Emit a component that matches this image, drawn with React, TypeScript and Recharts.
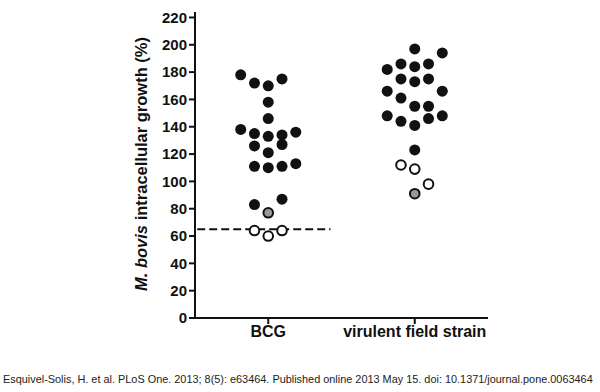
import { ScatterChart, Scatter, XAxis, YAxis, ReferenceLine } from "recharts";

const groups = ["BCG", "virulent field strain"];
const groupCenters = [1, 3];
const yTicks = [0, 20, 40, 60, 80, 100, 120, 140, 160, 180, 200, 220];
const cutoff = 65;

// f = filled, g = grey, o = open
const bcgValues = [178, 172, 170, 175, 158, 146, 138, 135, 133, 134, 136, 126, 121, 127, 111, 110, 111, 113, 83, 87, 77, 64, 60, 64];
const bcgSlots = [-2, -1, 0, 1, 0, 0, -2, -1, 0, 1, 2, -1, 0, 1, -1, 0, 1, 2, -1, 1, 0, -1, 0, 1];
const bcgKinds = "ffffffffffffffffffffgooo";

const virValues = [197, 194, 182, 186, 184, 186, 175, 173, 175, 166, 161, 166, 155, 155, 148, 144, 141, 146, 148, 123, 112, 109, 98, 91];
const virSlots = [0, 2, -2, -1, 0, 1, -1, 0, 1, -2, -1, 2, 0, 1, -2, -1, 0, 1, 2, 0, -1, 0, 1, 0];
const virKinds = "ffffffffffffffffffffooog";

const spread = 0.188;

const build = (center: number, vals: number[], slots: number[], kinds: string) =>
  vals.map((v, i) => ({ x: center + slots[i] * spread, y: v, kind: kinds[i] }));

const data = [
  ...build(groupCenters[0], bcgValues, bcgSlots, bcgKinds),
  ...build(groupCenters[1], virValues, virSlots, virKinds),
];

const Dot = (props: any) => {
  const { cx, cy, payload } = props;
  const k = payload.kind;
  const fill = k === "f" ? "#111" : k === "g" ? "#999" : "#fff";
  return <circle cx={cx} cy={cy} r={k === "f" ? 5.5 : 4.8} fill={fill} stroke="#111" strokeWidth={k === "f" ? 0 : 2} />;
};

const YLabel = () => (
  <text
    x={0}
    y={0}
    transform="translate(141,164) rotate(-90)"
    textAnchor="middle"
    dominantBaseline="central"
    fontFamily="Liberation Sans, Arial, sans-serif"
    fontWeight="bold"
    fontSize={16.5}
    fill="#111"
  >
    <tspan fontStyle="italic">M. bovis</tspan> intracellular growth (%)
  </text>
);

export default function App() {
  return (
    <div style={{ position: "absolute", left: 0, top: 0, width: 600, height: 392, background: "#fff" }}>
      <ScatterChart width={600} height={392} margin={{ top: 12, right: 112, bottom: 44, left: 0 }}>
        <XAxis
          type="number"
          dataKey="x"
          domain={[0, 4]}
          ticks={groupCenters}
          tickFormatter={(v: number) => groups[groupCenters.indexOf(v)]}
          axisLine={{ stroke: "#111", strokeWidth: 2 }}
          tickLine={{ stroke: "#111", strokeWidth: 2 }}
          tickSize={6}
          height={30}
          tick={{ fill: "#111", fontSize: 16, fontWeight: "bold", fontFamily: "Liberation Sans, Arial, sans-serif" }}
        />
        <YAxis
          type="number"
          dataKey="y"
          domain={[0, 224]}
          ticks={yTicks}
          width={195}
          interval={0}
          axisLine={{ stroke: "#111", strokeWidth: 2 }}
          tickLine={{ stroke: "#111", strokeWidth: 2 }}
          tickSize={6}
          tick={{ fill: "#111", fontSize: 15, fontWeight: "bold", fontFamily: "Liberation Sans, Arial, sans-serif" }}
          label={<YLabel />}
        />
        <ReferenceLine
          segment={[{ x: 0.03, y: cutoff }, { x: 1.85, y: cutoff }]}
          stroke="#111"
          strokeWidth={2}
          strokeDasharray="8 4"
        />
        <Scatter data={data} shape={<Dot />} isAnimationActive={false} />
      </ScatterChart>
      <div
        style={{
          position: "absolute",
          left: 3,
          top: 373,
          fontFamily: "Liberation Sans, Arial, sans-serif",
          fontSize: 10.9,
          color: "#222",
          whiteSpace: "nowrap",
        }}
      >
        Esquivel-Solis, H. et al. PLoS One. 2013; 8(5): e63464. Published online 2013 May 15. doi: 10.1371/journal.pone.0063464
      </div>
    </div>
  );
}
